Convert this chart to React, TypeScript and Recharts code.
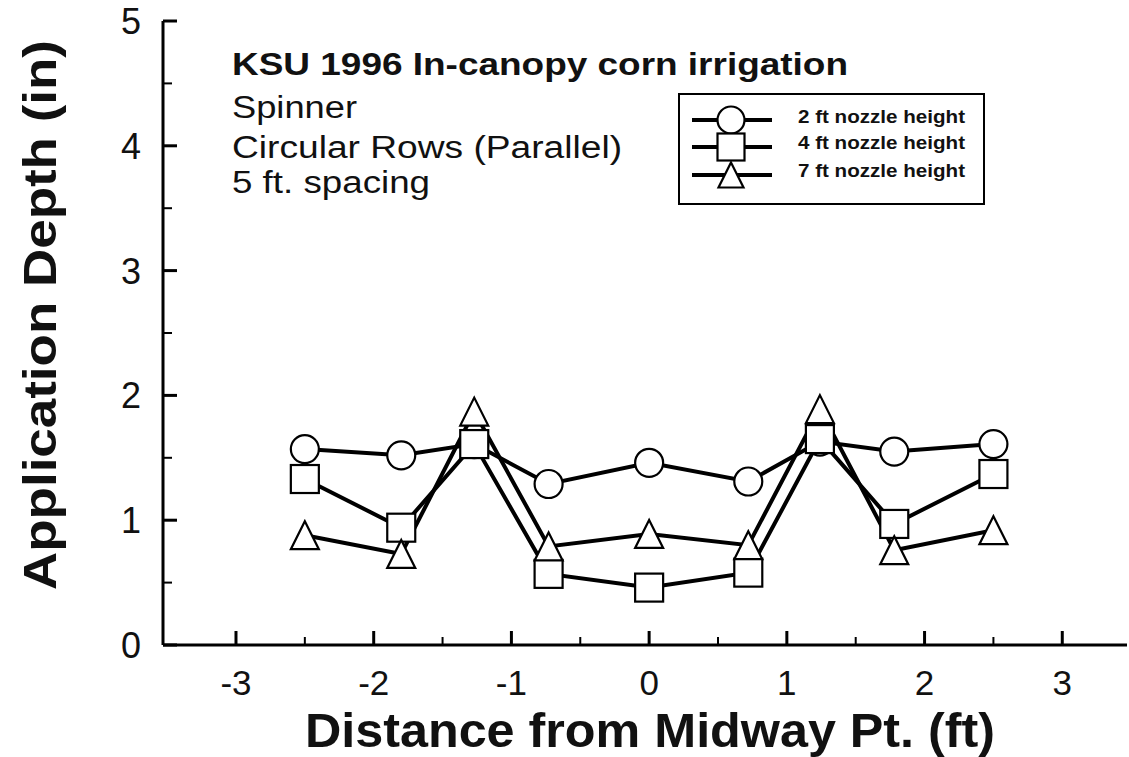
import React from 'react';
import { ComposedChart, Line, XAxis, YAxis, Legend } from 'recharts';

const distances = [-2.5, -1.8, -1.27, -0.73, 0, 0.72, 1.24, 1.78, 2.5];
const nozzle2ft = [1.57, 1.52, 1.61, 1.29, 1.46, 1.31, 1.63, 1.55, 1.61];
const nozzle4ft = [1.33, 0.94, 1.61, 0.57, 0.46, 0.58, 1.65, 0.97, 1.37];
const nozzle7ft = [0.88, 0.73, 1.87, 0.79, 0.89, 0.8, 1.89, 0.76, 0.92];

const xTicks = [-3, -2.5, -2, -1.5, -1, -0.5, 0, 0.5, 1, 1.5, 2, 2.5, 3];
const yTicks = [0, 0.5, 1, 1.5, 2, 2.5, 3, 3.5, 4, 4.5, 5];
const xDomain = [-3.53, 3.47];

const seriesNames = ['2 ft nozzle height', '4 ft nozzle height', '7 ft nozzle height'];
const seriesKeys = ['n2', 'n4', 'n7'];
const seriesShapes = ['circle', 'square', 'triangle'];

const titleText = 'KSU 1996 In-canopy corn irrigation';
const noteLines = ['Spinner', 'Circular Rows (Parallel)', '5 ft. spacing'];
const xTitle = 'Distance from Midway Pt. (ft)';
const yTitle = 'Application Depth (in)';

const FONT = '"Liberation Sans", Arial, Helvetica, sans-serif';

const data = distances.map((d, i) => ({ x: d, n2: nozzle2ft[i], n4: nozzle4ft[i], n7: nozzle7ft[i] }));

const isMajor = (v: number) => Math.abs(v - Math.round(v)) < 1e-6;

const Marker = ({ shape, cx, cy, s }: { shape: string; cx: number; cy: number; s: number }) => {
  const h = s / 2;
  if (shape === 'circle') return <circle cx={cx} cy={cy} r={h} fill="#fff" stroke="#000" strokeWidth={2.2} />;
  if (shape === 'square') return <rect x={cx - h} y={cy - h} width={s} height={s} fill="#fff" stroke="#000" strokeWidth={2.2} />;
  return <polygon points={`${cx},${cy - h} ${cx + h},${cy + h} ${cx - h},${cy + h}`} fill="#fff" stroke="#000" strokeWidth={2.2} />;
};

const makeDot = (shape: string) => (props: any) => {
  const { cx, cy, index } = props;
  if (cx == null || cy == null) return <g key={`d-${shape}-${index}`} />;
  return (
    <g key={`d-${shape}-${index}`}>
      <Marker shape={shape} cx={cx} cy={cy} s={28} />
    </g>
  );
};

const BottomTick = (props: any) => {
  const { x, y, payload } = props;
  const v = payload.value;
  const major = isMajor(v);
  return (
    <g>
      <line x1={x} x2={x} y1={y} y2={y - (major ? 14 : 8)} stroke="#000" strokeWidth={major ? 3 : 2} />
      {major && (
        <text x={x} y={y + 50} textAnchor="middle" fontSize={35} fontFamily={FONT} fill="#111">
          {String(v)}
        </text>
      )}
    </g>
  );
};

const TopTick = (props: any) => {
  const { x, y, payload } = props;
  const major = isMajor(payload.value);
  return <line x1={x} x2={x} y1={y} y2={y + (major ? 15 : 8)} stroke="#000" strokeWidth={major ? 3 : 2} />;
};

const LeftTick = (props: any) => {
  const { x, y, payload } = props;
  const v = payload.value;
  const major = isMajor(v);
  return (
    <g>
      <line x1={x} x2={x + (major ? 14 : 9)} y1={y} y2={y} stroke="#000" strokeWidth={major ? 3 : 2} />
      {major && (
        <text x={x - 22} y={y + 13} textAnchor="end" fontSize={36} fontFamily={FONT} fill="#111">
          {String(v)}
        </text>
      )}
    </g>
  );
};

const RightTick = (props: any) => {
  const { x, y, payload } = props;
  const major = isMajor(payload.value);
  return <line x1={x} x2={x - (major ? 14 : 9)} y1={y} y2={y} stroke="#000" strokeWidth={major ? 3 : 2} />;
};

const renderLegend = () => (
  <svg width={307} height={112} style={{ display: 'block' }}>
    <rect x={1} y={1} width={305} height={110} fill="#fff" stroke="#000" strokeWidth={2} />
    {seriesNames.map((name, i) => {
      const rowY = [27, 54, 82][i];
      const baseY = [30, 56, 84][i];
      return (
        <g key={name}>
          <line x1={14} x2={94} y1={rowY} y2={rowY} stroke="#000" strokeWidth={4} />
          <Marker shape={seriesShapes[i]} cx={53} cy={rowY} s={i === 2 ? 25 : 27} />
          <text x={120} y={baseY} fontSize={19} fontWeight="bold" fontFamily={FONT} fill="#111" textLength={167} lengthAdjust="spacingAndGlyphs">
            {name}
          </text>
        </g>
      );
    })}
  </svg>
);

export default function App() {
  return (
    <div style={{ position: 'absolute', left: 0, top: 0, width: 1129, height: 757, background: '#fff' }}>
      <ComposedChart width={1129} height={757} data={data} margin={{ top: 21, right: 2, bottom: 0, left: 0 }}>
        <XAxis
          xAxisId="bottom"
          dataKey="x"
          type="number"
          domain={xDomain}
          ticks={xTicks}
          interval={0}
          height={112}
          tickSize={0}
          tickMargin={0}
          tickLine={false}
          tick={BottomTick}
          axisLine={{ stroke: '#000', strokeWidth: 3 }}
          allowDataOverflow
        />
        <XAxis
          xAxisId="top"
          orientation="top"
          dataKey="x"
          type="number"
          domain={xDomain}
          ticks={xTicks}
          interval={0}
          height={0}
          tickSize={0}
          tickMargin={0}
          tickLine={false}
          tick={TopTick}
          axisLine={{ stroke: '#000', strokeWidth: 3 }}
          allowDataOverflow
        />
        <YAxis
          yAxisId="left"
          type="number"
          domain={[0, 5]}
          ticks={yTicks}
          interval={0}
          width={163}
          tickSize={0}
          tickMargin={0}
          tickLine={false}
          tick={LeftTick}
          axisLine={{ stroke: '#000', strokeWidth: 3 }}
          allowDataOverflow
        />
        <YAxis
          yAxisId="right"
          orientation="right"
          type="number"
          domain={[0, 5]}
          ticks={yTicks}
          interval={0}
          width={0}
          tickSize={0}
          tickMargin={0}
          tickLine={false}
          tick={RightTick}
          axisLine={{ stroke: '#000', strokeWidth: 3 }}
          allowDataOverflow
        />
        {seriesKeys.map((k, i) => (
          <Line
            key={k}
            xAxisId="bottom"
            yAxisId="left"
            type="linear"
            dataKey={k}
            name={seriesNames[i]}
            stroke="#000"
            strokeWidth={4}
            dot={makeDot(seriesShapes[i])}
            activeDot={false}
            isAnimationActive={false}
          />
        ))}
        <Legend
          layout="vertical"
          align="center"
          verticalAlign="middle"
          content={renderLegend}
          wrapperStyle={{ position: 'absolute', left: 678, top: 93, width: 307, height: 112 }}
        />
      </ComposedChart>
      <svg
        width={1129}
        height={757}
        style={{ position: 'absolute', left: 0, top: 0, pointerEvents: 'none' }}
      >
        <text x={232} y={75} fontSize={31} fontWeight="bold" fontFamily={FONT} fill="#111" textLength={616} lengthAdjust="spacingAndGlyphs">
          {titleText}
        </text>
        {noteLines.map((t, i) => (
          <text
            key={t}
            x={232}
            y={[118, 158, 193][i]}
            fontSize={31}
            fontFamily={FONT}
            fill="#111"
            textLength={[125, 390, 198][i]}
            lengthAdjust="spacingAndGlyphs"
          >
            {t}
          </text>
        ))}
        <text x={650} y={747} textAnchor="middle" fontSize={48} fontWeight="bold" fontFamily={FONT} fill="#111" textLength={690} lengthAdjust="spacingAndGlyphs">
          {xTitle}
        </text>
        <text
          x={0}
          y={0}
          textAnchor="middle"
          fontSize={47}
          fontWeight="bold"
          fontFamily={FONT}
          fill="#111"
          textLength={550}
          lengthAdjust="spacingAndGlyphs"
          transform="translate(56,315) rotate(-90)"
        >
          {yTitle}
        </text>
      </svg>
    </div>
  );
}
